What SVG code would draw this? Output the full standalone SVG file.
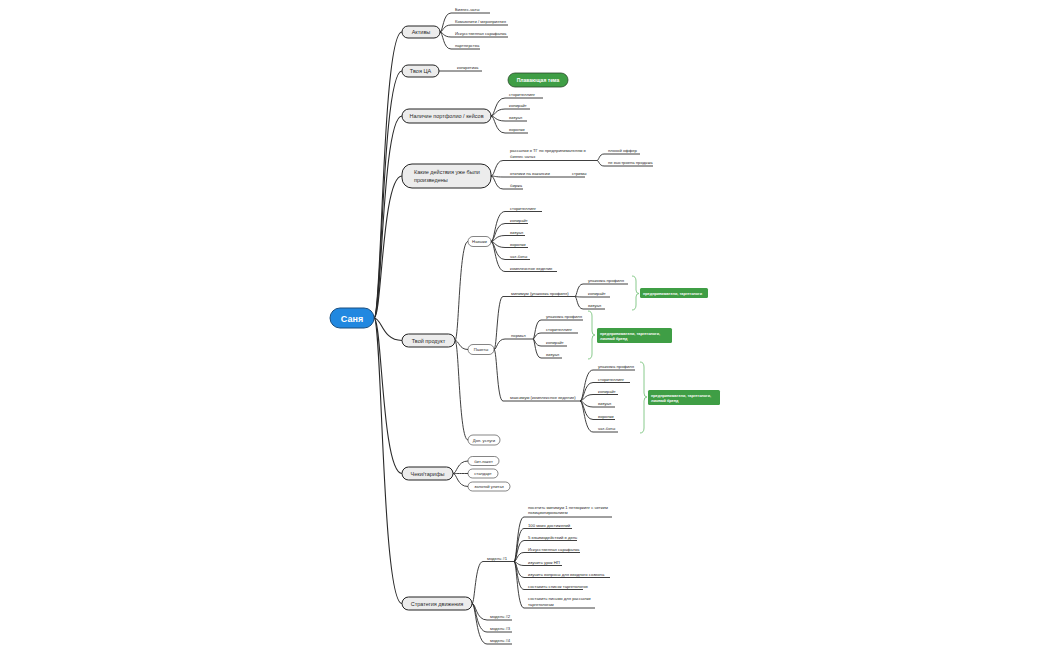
<svg xmlns="http://www.w3.org/2000/svg" width="1050" height="650" viewBox="0 0 1050 650">
<style>
text{font-family:"Liberation Sans",Arial,sans-serif;fill:#2a2a2a}
.main rect{fill:#ececec;stroke:#222;stroke-width:1}
.main text{font-size:5.5px;text-anchor:middle}
.sub rect{fill:#fff;stroke:#333;stroke-width:0.6}
.sub text{font-size:4.2px;text-anchor:middle}
.leaf{font-size:4.2px}
.c{fill:none;stroke:#2a2a2a;stroke-width:0.9}
.t{fill:none;stroke:#2a2a2a;stroke-width:1.1}
.br{fill:none;stroke:#7cc47f;stroke-width:0.9}
.g rect{fill:#3f9e45}
.g text{font-size:3.8px;font-weight:bold;fill:#fff}
</style>
<rect width="1050" height="650" fill="#fff"/>
<g id="connectors">
<path class="t" d="M374 318 C382 318 382 32 402 32"/>
<path class="t" d="M374 318 C382 318 382 71 402 71"/>
<path class="t" d="M374 318 C382 318 382 116 402 116"/>
<path class="t" d="M374 318 C382 318 382 176 402 176"/>
<path class="t" d="M374 318 C382 318 382 340.5 402 340.5"/>
<path class="t" d="M374 318 C382 318 382 473.5 402 473.5"/>
<path class="t" d="M374 318 C382 318 382 603.5 402 603.5"/>
<path class="c" d="M440 32 C443 32 443 13 451 13 H490"/>
<path class="c" d="M440 32 C443 32 443 25 451 25 H508"/>
<path class="c" d="M440 32 C443 32 443 37 451 37 H508"/>
<path class="c" d="M440 32 C443 32 443 49 451 49 H480"/>
<path class="c" d="M439 71 H482"/>
<path class="c" d="M491 116 C495 116 495 98 505 98 H543"/>
<path class="c" d="M491 116 C495 116 495 109 505 109 H530"/>
<path class="c" d="M491 116 C495 116 495 121 505 121 H527"/>
<path class="c" d="M491 116 C495 116 495 133 505 133 H528"/>
<path class="c" d="M491 176 C495 176 495 160.5 503 160.5 H597"/>
<path class="c" d="M491 176 C495 176 495 177 503 177 H553"/>
<path class="c" d="M553 177 H585"/>
<path class="c" d="M491 176 C495 176 495 189 503 189 H523"/>
<path class="c" d="M597 160.5 C599 160.5 599 154 604 154 H640"/>
<path class="c" d="M597 160.5 C599 160.5 599 166 604 166 H653"/>
<path class="c" d="M455 340.5 C459 340.5 459 241.5 468 241.5"/>
<path class="c" d="M455 340.5 C459 340.5 459 349.5 468 349.5"/>
<path class="c" d="M455 340.5 C459 340.5 459 440 468 440"/>
<path class="c" d="M491 241.5 C495 241.5 495 211.5 505 211.5 H542"/>
<path class="c" d="M491 241.5 C495 241.5 495 223.5 505 223.5 H528"/>
<path class="c" d="M491 241.5 C495 241.5 495 235.5 505 235.5 H525"/>
<path class="c" d="M491 241.5 C495 241.5 495 247.5 505 247.5 H528"/>
<path class="c" d="M491 241.5 C495 241.5 495 259.5 505 259.5 H530"/>
<path class="c" d="M491 241.5 C495 241.5 495 271.5 505 271.5 H557"/>
<path class="c" d="M494 349.5 C497 349.5 497 296.5 503 296.5 H575"/>
<path class="c" d="M494 349.5 C497 349.5 497 339 505 339 H533"/>
<path class="c" d="M494 349.5 C497 349.5 497 401 503 401 H580"/>
<path class="c" d="M575 296.5 C577 296.5 577 284 583 284 H628"/>
<path class="c" d="M575 296.5 C577 296.5 577 297 583 297 H610"/>
<path class="c" d="M575 296.5 C577 296.5 577 309 583 309 H605"/>
<path class="c" d="M533 339 C535 339 535 320 541 320 H583"/>
<path class="c" d="M533 339 C535 339 535 333 541 333 H578"/>
<path class="c" d="M533 339 C535 339 535 346 541 346 H567"/>
<path class="c" d="M533 339 C535 339 535 358 541 358 H562"/>
<path class="c" d="M580 401 C584 401 584 370 593 370 H635"/>
<path class="c" d="M580 401 C584 401 584 382.5 593 382.5 H630"/>
<path class="c" d="M580 401 C584 401 584 394.5 593 394.5 H618"/>
<path class="c" d="M580 401 C584 401 584 407 593 407 H615"/>
<path class="c" d="M580 401 C584 401 584 419.5 593 419.5 H615"/>
<path class="c" d="M580 401 C584 401 584 432 593 432 H618"/>
<path class="c" d="M453 473.5 C457 473.5 457 461 468 461"/>
<path class="c" d="M453 473.5 C457 473.5 457 473.5 468 473.5"/>
<path class="c" d="M453 473.5 C457 473.5 457 486.5 468 486.5"/>
<path class="c" d="M472 603.5 C475 603.5 475 561.5 483 561.5 H514"/>
<path class="c" d="M472 603.5 C476 603.5 476 620 487 620 H512"/>
<path class="c" d="M472 603.5 C476 603.5 476 632 487 632 H512"/>
<path class="c" d="M472 603.5 C476 603.5 476 644 487 644 H512"/>
<path class="c" d="M514 561.5 C517 561.5 517 517 524 517 H612"/>
<path class="c" d="M514 561.5 C517 561.5 517 528.5 524 528.5 H572"/>
<path class="c" d="M514 561.5 C517 561.5 517 540.5 524 540.5 H577"/>
<path class="c" d="M514 561.5 C517 561.5 517 552.5 524 552.5 H580"/>
<path class="c" d="M514 561.5 C517 561.5 517 565.5 524 565.5 H562"/>
<path class="c" d="M514 561.5 C517 561.5 517 577.5 524 577.5 H610"/>
<path class="c" d="M514 561.5 C517 561.5 517 589.5 524 589.5 H583"/>
<path class="c" d="M514 561.5 C517 561.5 517 608 524 608 H595"/>
<path class="br" d="M632 276 Q636 276 636 281 V290 Q636 293.5 639 293.5 Q636 293.5 636 297 V305 Q636 310 632 310"/>
<path class="br" d="M588 311 Q592 311 592 316 V331 Q592 335 595 335 Q592 335 592 339 V354 Q592 359 588 359"/>
<path class="br" d="M640 362 Q644 362 644 367 V393 Q644 397 647 397 Q644 397 644 401 V428 Q644 433 640 433"/>
</g>
<g id="center"><rect x="330" y="308" width="44" height="20" rx="10" fill="#2188e0" stroke="#1b4f80" stroke-width="1"/><text x="352" y="321.5" font-size="9" font-weight="bold" text-anchor="middle" style="fill:#fff">Саня</text></g>
<g id="aktivy" class="main"><rect x="402" y="26" width="38" height="12" rx="6"/><text x="421" y="34">Активы</text></g>
<g id="aktivy-leaves"><text class="leaf" x="455" y="11">Бизнес-чаты</text><text class="leaf" x="455" y="23">Комьюнити / мероприятия</text><text class="leaf" x="455" y="35">Искусственная сарафанка</text><text class="leaf" x="455" y="47">партнерства</text></g>
<g id="ca" class="main"><rect x="402" y="65" width="37" height="12" rx="6"/><text x="420.5" y="73">Твоя ЦА</text></g>
<g id="ca-leaf"><text class="leaf" x="457" y="69">конкретика</text></g>
<g id="float"><rect x="508" y="73" width="60" height="14" rx="7" fill="#3f9e45" stroke="#2a4a2a" stroke-width="0.8"/><text x="538" y="81.8" font-size="5" font-weight="bold" text-anchor="middle" style="fill:#fff">Плавающая тема</text></g>
<g id="portfolio" class="main"><rect x="402" y="109" width="89" height="14" rx="7"/><text x="446.5" y="118">Наличие портфолио / кейсов</text></g>
<g id="portfolio-leaves"><text class="leaf" x="509" y="96">сторителлинг</text><text class="leaf" x="509" y="107">копирайт</text><text class="leaf" x="509" y="119">визуал</text><text class="leaf" x="509" y="131">воронки</text></g>
<g id="actions" class="main"><rect x="402" y="164" width="89" height="24" rx="10"/><text x="414" y="174" style="text-anchor:start">Какие действия уже были</text><text x="414" y="182" style="text-anchor:start">произведены</text></g>
<g id="actions-leaves"><text class="leaf" x="510" y="152">рассылки в ТГ по предпринимателям в</text><text class="leaf" x="510" y="157.5">бизнес чатах</text><text class="leaf" x="510" y="175">отклики на вакансии</text><text class="leaf" x="572" y="175">стримы</text><text class="leaf" x="510" y="187">биржа</text><text class="leaf" x="608" y="152">плохой оффер</text><text class="leaf" x="608" y="164">не выстроена продажа</text></g>
<g id="product" class="main"><rect x="402" y="334" width="53" height="13" rx="6.5"/><text x="428.5" y="342.5">Твой продукт</text></g>
<g id="skills" class="sub"><rect x="468" y="236.5" width="23" height="10" rx="5"/><text x="479.5" y="243">Навыки</text></g>
<g id="skills-leaves"><text class="leaf" x="510" y="209.5">сторителлинг</text><text class="leaf" x="510" y="221.5">копирайт</text><text class="leaf" x="510" y="233.5">визуал</text><text class="leaf" x="510" y="245.5">воронки</text><text class="leaf" x="510" y="257.5">чат-боты</text><text class="leaf" x="510" y="269.5">комплексное ведение</text></g>
<g id="packs" class="sub"><rect x="468" y="344.5" width="26" height="10" rx="5"/><text x="481" y="351">Пакеты</text></g>
<g id="packs-leaves"><text class="leaf" x="511" y="294.5">минимум (упаковка профиля)</text><text class="leaf" x="511" y="337">нормал</text><text class="leaf" x="510" y="399">максимум (комплексное ведение)</text></g>
<g id="min-leaves"><text class="leaf" x="588" y="282">упаковка профиля</text><text class="leaf" x="588" y="295">копирайт</text><text class="leaf" x="588" y="307">визуал</text></g>
<g id="norm-leaves"><text class="leaf" x="546" y="318">упаковка профиля</text><text class="leaf" x="546" y="331">сторителлинг</text><text class="leaf" x="546" y="344">копирайт</text><text class="leaf" x="546" y="356">визуал</text></g>
<g id="max-leaves"><text class="leaf" x="598" y="368">упаковка профиля</text><text class="leaf" x="598" y="380.5">сторителлинг</text><text class="leaf" x="598" y="392.5">копирайт</text><text class="leaf" x="598" y="405">визуал</text><text class="leaf" x="598" y="417.5">воронки</text><text class="leaf" x="598" y="430">чат-боты</text></g>
<g id="sum1" class="g"><rect x="640" y="288" width="68" height="10" rx="1.5"/><text x="643" y="294.5">предприниматели, таргетологи</text></g>
<g id="sum2" class="g"><rect x="597" y="328" width="75" height="15" rx="1.5"/><text x="600" y="334.5">предприниматели, таргетологи,</text><text x="600" y="340">личный бренд</text></g>
<g id="sum3" class="g"><rect x="648" y="390" width="72" height="15" rx="1.5"/><text x="651" y="396.5">предприниматели, таргетологи,</text><text x="651" y="402">личный бренд</text></g>
<g id="extra" class="sub"><rect x="468" y="435" width="32" height="10" rx="5"/><text x="484" y="441.5">Доп. услуги</text></g>
<g id="tariffs" class="main"><rect x="402" y="467" width="51" height="13" rx="6.5"/><text x="427.5" y="475.5">Чеки/тарифы</text></g>
<g id="t1" class="sub"><rect x="468" y="456.5" width="31" height="9" rx="4.5"/><text x="483.5" y="462.5">бит-пакет</text></g>
<g id="t2" class="sub"><rect x="468" y="469" width="30" height="9" rx="4.5"/><text x="483" y="475">стандарт</text></g>
<g id="t3" class="sub"><rect x="468" y="482" width="42" height="9" rx="4.5"/><text x="489" y="488">золотой унитаз</text></g>
<g id="strategy" class="main"><rect x="402" y="597" width="70" height="13" rx="6.5"/><text x="437" y="605.5">Стратегия движения</text></g>
<g id="models"><text class="leaf" x="487" y="559.5">модель #1</text><text class="leaf" x="490" y="618">модель #2</text><text class="leaf" x="490" y="630">модель #3</text><text class="leaf" x="490" y="642">модель #4</text></g>
<g id="model1-leaves"><text class="leaf" x="528" y="509">посетить минимум 1 нетворкинг с четким</text><text class="leaf" x="528" y="514">позиционированием</text><text class="leaf" x="528" y="526.5">100 моих достижений</text><text class="leaf" x="528" y="538.5">5 взаимодействий в день</text><text class="leaf" x="528" y="550.5">Искусственная сарафанка</text><text class="leaf" x="528" y="563.5">изучить урок НП</text><text class="leaf" x="528" y="575.5">изучить вопросы для вводного созвона</text><text class="leaf" x="528" y="587.5">составить список таргетологов</text><text class="leaf" x="528" y="600">составить письмо для рассылки</text><text class="leaf" x="528" y="605.5">таргетологам</text></g>
</svg>
